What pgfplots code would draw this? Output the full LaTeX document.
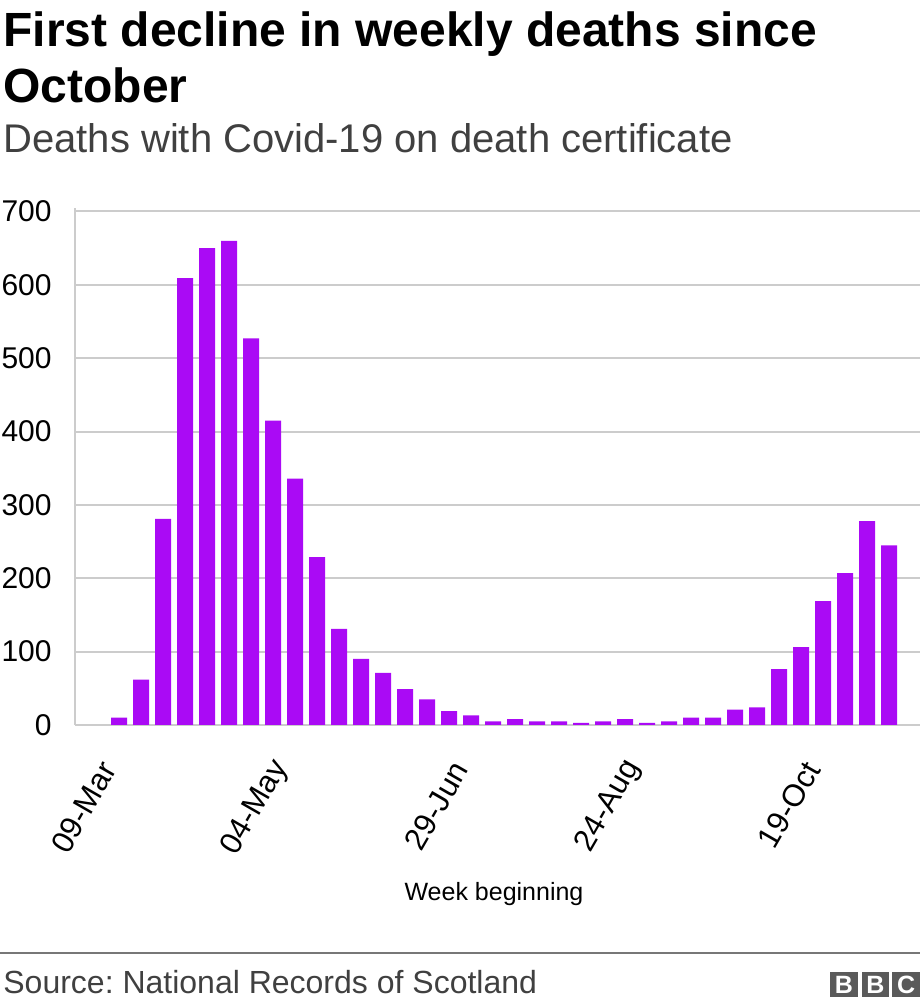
\documentclass[border=0pt]{standalone}
\usepackage{fontspec}
\setmainfont{Liberation Sans}
\usepackage{pgfplots}
\pgfplotsset{compat=1.18}
\definecolor{barc}{HTML}{AA0AF5}
\definecolor{gridc}{HTML}{CCCCCC}
\definecolor{subc}{HTML}{404040}
\definecolor{rulec}{HTML}{777777}
\definecolor{logoc}{HTML}{5A5A5A}
\frenchspacing
\begin{document}
\begin{tikzpicture}
\useasboundingbox (0,0) rectangle (460pt,504pt);
\node[anchor=base west, inner sep=0pt, font=\fontsize{24}{28}\selectfont\bfseries] at (1.5pt,480.5pt) {First decline in weekly deaths since};
\node[anchor=base west, inner sep=0pt, font=\fontsize{24}{28}\selectfont\bfseries] at (1.5pt,452.5pt) {October};
\node[anchor=base west, inner sep=0pt, text=subc, font=\fontsize{20}{24}\selectfont] at (1.5pt,427.5pt) {Deaths with Covid-19 on death certificate};
\begin{axis}[
  at={(37.5pt,141.5pt)}, anchor=south west,
  scale only axis, width=422.5pt, height=258.6pt,
  xmin=-2, xmax=36.4, ymin=0, ymax=705,
  axis lines*=left,
  x axis line style={draw=none},
  y axis line style={gridc, line width=1pt},
  ymajorgrids, grid style={gridc, line width=1pt},
  major tick length=0pt,
  xtick={0,8,16,24,32},
  xticklabels={09-Mar,04-May,29-Jun,24-Aug,19-Oct},
  ytick={0,100,200,300,400,500,600,700},
  /pgf/number format/assume math mode=true,
  yticklabel style={font=\fontsize{15}{18}\selectfont, inner sep=0pt, anchor=east, xshift=-11.5pt},
  xticklabel style={font=\fontsize{15.5}{18}\selectfont, inner sep=0pt, yshift=-22.5pt, xshift=-0.5pt, rotate=60, anchor=south east},
  ybar, bar width=8pt, bar shift=0pt,
]
\addplot[fill=barc, draw=none] coordinates {
(0,10) (1,62) (2,281) (3,609) (4,650) (5,660) (6,527) (7,415) (8,336) (9,229)
(10,131) (11,90) (12,71) (13,49) (14,35) (15,19) (16,13) (17,5) (18,8) (19,5)
(20,5) (21,3) (22,5) (23,8) (24,3) (25,5) (26,10) (27,10) (28,21) (29,24)
(30,76) (31,106) (32,169) (33,207) (34,278) (35,245)
};
\draw[black, line width=1.6pt] ([yshift=-0.8pt]rel axis cs:0,0) -- ([yshift=-0.8pt]rel axis cs:1,0);
\end{axis}
\node[anchor=base, inner sep=0pt, font=\fontsize{12.5}{15}\selectfont] at (247pt,53.5pt) {Week beginning};
\draw[rulec, line width=1pt] (0,27.6pt) -- (460pt,27.6pt);
\node[anchor=base west, inner sep=0pt, text=subc, font=\fontsize{16}{19}\selectfont] at (1.5pt,7.5pt) {Source: National Records of Scotland};
\foreach \x/\l in {415/B,430.75/B,446.1/C}{
  \fill[logoc] (\x pt,5.5pt) rectangle ++(13.9pt,12.5pt);
  \node[text=white, font=\fontsize{12.5}{14}\selectfont\bfseries, inner sep=0pt] at (\x pt+6.95pt,11.75pt) {\l};
}
\end{tikzpicture}
\end{document}
